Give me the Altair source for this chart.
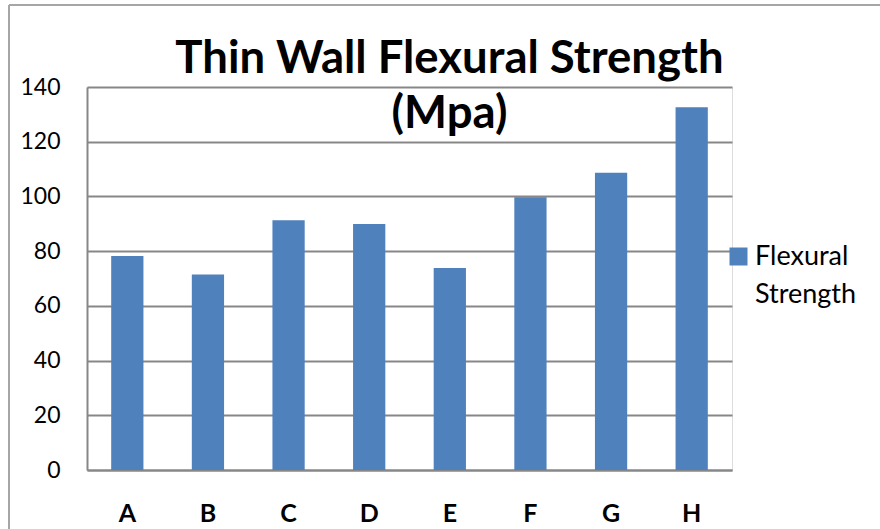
import altair as alt
import pandas as pd

categories = ["A", "B", "C", "D", "E", "F", "G", "H"]
values = [78.2, 71.5, 91.3, 89.9, 73.8, 99.7, 108.7, 132.6]
series_name = "Flexural Strength"
y_ticks = [0, 20, 40, 60, 80, 100, 120, 140]

df = pd.DataFrame({"Sample": categories, "Strength": values, "Series": [series_name] * len(categories)})

GRID = "#878787"
FONT = "Lato"

bars = alt.Chart(df).mark_bar().encode(
    x=alt.X(
        "Sample:N",
        sort=categories,
        scale=alt.Scale(paddingInner=0.6, paddingOuter=0.3),
        axis=alt.Axis(
            title=None, labelAngle=0, labelFont=FONT, labelFontWeight="bold",
            labelFontSize=25, labelColor="black", labelPadding=31,
            domainColor=GRID, domainWidth=2, ticks=False,
        ),
    ),
    y=alt.Y(
        "Strength:Q",
        scale=alt.Scale(domain=[0, 140], nice=False),
        axis=alt.Axis(
            title=None, values=y_ticks, grid=True, gridColor=GRID, gridWidth=2,
            domainColor=GRID, domainWidth=2, ticks=False, labelFont=FONT,
            labelFontSize=23, labelColor="black", labelPadding=27,
        ),
    ),
    color=alt.Color(
        "Series:N",
        scale=alt.Scale(range=["#4F81BD"]),
        legend=alt.Legend(
            title=None, orient="none", legendX=638, legendY=156, padding=0,
            symbolType="square", symbolSize=324, symbolStrokeWidth=0,
            symbolOpacity=1, labelFont=FONT, labelFontSize=27, labelColor="black",
            labelExpr="split(datum.label, ' ')", labelLimit=300, labelOffset=3,
        ),
    ),
)

frame_df = pd.DataFrame({"k": [0]})
frame_top = alt.Chart(frame_df).mark_rule(color="#a6a6a6", strokeWidth=2).encode(
    x=alt.value(-78), x2=alt.value(793), y=alt.value(-82)
)
frame_left = alt.Chart(frame_df).mark_rule(color="#a6a6a6", strokeWidth=2).encode(
    x=alt.value(-78), y=alt.value(-82), y2=alt.value(442)
)

chart = alt.layer(bars, frame_top, frame_left).properties(
    width=645,
    height=383,
    title=alt.TitleParams(
        text=["Thin Wall Flexural Strength", "(Mpa)"],
        font=FONT, fontSize=45.5, fontWeight="bold", color="black",
        lineHeight=55, anchor="middle", dx=40, dy=137,
    ),
    autosize=alt.AutoSizeParams(type="none"),
    padding={"left": 87, "top": 87, "right": 148, "bottom": 59},
).configure_view(stroke=None).configure(
    background="white", style={"guide-label": {"lineHeight": 38}}
)

chart.save("out.html", embed_options={"renderer": "svg", "actions": False})
